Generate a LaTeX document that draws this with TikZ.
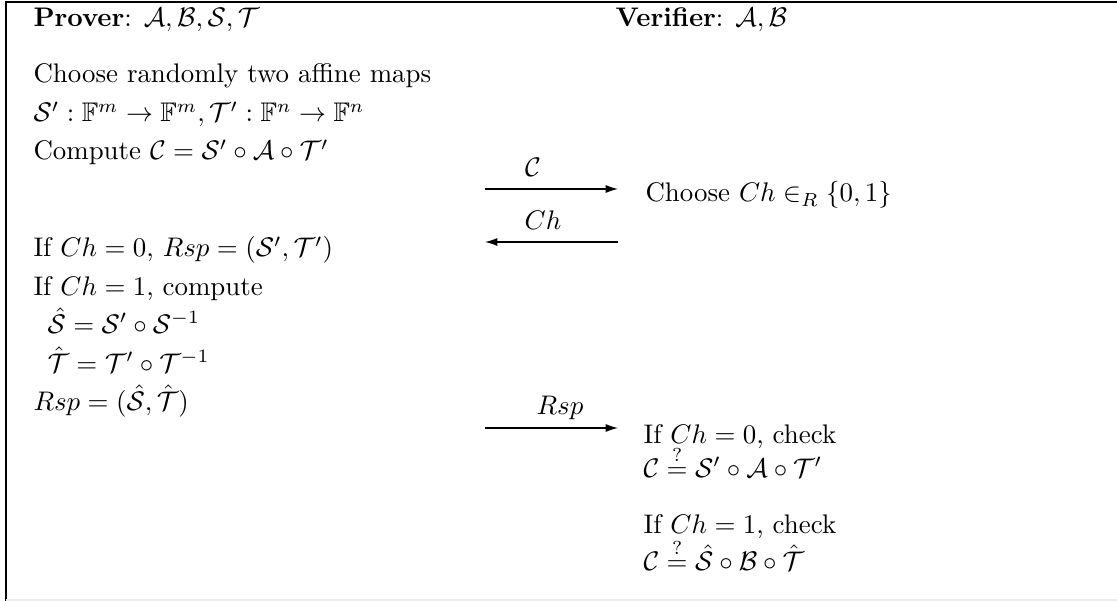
\documentclass[tikz,border=0pt]{standalone}
\usepackage{amsmath,amssymb}
\usetikzlibrary{arrows.meta}
\begin{document}
\begin{tikzpicture}[x=0.372pt,y=-0.372pt,
  txt/.style={anchor=base west,inner sep=0pt},
  lbl/.style={anchor=base,inner sep=0pt},
  msg/.style={-{Latex[length=4.6pt,width=3pt]},line width=0.45pt},
  frame/.style={line width=0.6pt}]
\useasboundingbox (0,0) rectangle (1117,601);
\draw[frame] (1117,2) -- (6,2) -- (6,601);
\draw[gray!15,line width=0.5pt] (6,600) -- (1117,600);
% prover column
\node[txt] (p0) at (33,27) {\textbf{Prover}: $\mathcal{A},\mathcal{B},\mathcal{S},\mathcal{T}$};
\node[txt] (p1) at (33,83) {Choose randomly two affine maps};
\node[txt] (p2) at (33,122) {$\mathcal{S}':\mathbb{F}^m\rightarrow\mathbb{F}^m,\mathcal{T}':\mathbb{F}^n\rightarrow\mathbb{F}^n$};
\node[txt] (p3) at (33,160) {Compute $\mathcal{C}=\mathcal{S}'\circ\mathcal{A}\circ\mathcal{T}'$};
\node[txt] (p4) at (33,257) {If $Ch=0$, $Rsp=(\mathcal{S}',\mathcal{T}')$};
\node[txt] (p5) at (33,295) {If $Ch=1$, compute};
\node[txt] (p6) at (47,333) {$\hat{\mathcal{S}}=\mathcal{S}'\circ\mathcal{S}^{-1}$};
\node[txt] (p7) at (47,372) {$\hat{\mathcal{T}}=\mathcal{T}'\circ\mathcal{T}^{-1}$};
\node[txt] (p8) at (33,410) {$Rsp=(\hat{\mathcal{S}},\hat{\mathcal{T}})$};
% verifier column
\node[txt] (v0) at (615,27) {\textbf{Verifier}: $\mathcal{A},\mathcal{B}$};
\node[txt] (v1) at (645,202) {Choose $Ch\in_R\{0,1\}$};
\node[txt] (v2) at (643,443) {If $Ch=0$, check};
\node[txt] (v3) at (643,477) {$\mathcal{C}\stackrel{?}{=}\mathcal{S}'\circ\mathcal{A}\circ\mathcal{T}'$};
\node[txt] (v4) at (643,533) {If $Ch=1$, check};
\node[txt] (v5) at (643,570) {$\mathcal{C}\stackrel{?}{=}\hat{\mathcal{S}}\circ\mathcal{B}\circ\hat{\mathcal{T}}$};
% messages
\coordinate (m1a) at (485,189); \coordinate (m1b) at (618,189);
\coordinate (m2a) at (618,242); \coordinate (m2b) at (485,242);
\coordinate (m3a) at (485,428); \coordinate (m3b) at (618,428);
\draw[msg] (m1a) -- (m1b);
\draw[msg] (m2a) -- (m2b);
\draw[msg] (m3a) -- (m3b);
\node[lbl] (l1) at (533,177) {$\mathcal{C}$};
\node[lbl] (l2) at (543,230) {$Ch$};
\node[lbl] (l3) at (560,414) {$Rsp$};
\end{tikzpicture}
\end{document}
